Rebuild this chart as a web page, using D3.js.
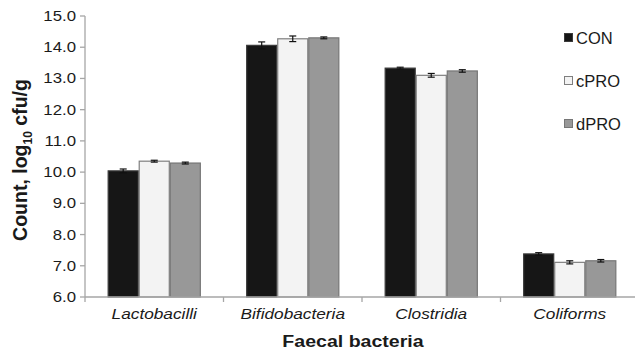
<!DOCTYPE html>
<html>
<head>
<meta charset="utf-8">
<script src="https://cdn.jsdelivr.net/npm/d3@7"></script>
<style>
  html, body { margin: 0; padding: 0; background: #fff; }
  svg { display: block; font-family: "Liberation Sans", Arial, sans-serif; }
</style>
</head>
<body>
<svg id="chart" width="635" height="356"></svg>
<script>
// data
const categories = ["Lactobacilli", "Bifidobacteria", "Clostridia", "Coliforms"];
const seriesNames = ["CON", "cPRO", "dPRO"];
const conValues = [10.04, 14.06, 13.33, 7.38];
const cproValues = [10.35, 14.27, 13.10, 7.11];
const dproValues = [10.29, 14.30, 13.24, 7.16];
const conErrors = [0.06, 0.11, 0.03, 0.04];
const cproErrors = [0.03, 0.09, 0.06, 0.05];
const dproErrors = [0.03, 0.03, 0.04, 0.04];
const yTicks = [6, 7, 8, 9, 10, 11, 12, 13, 14, 15];

const seriesStyle = {
  CON: { fill: "#161616", stroke: "#3a3a3a" },
  cPRO: { fill: "#f3f3f3", stroke: "#7f7f7f" },
  dPRO: { fill: "#989898", stroke: "#767676" }
};

const values = { CON: conValues, cPRO: cproValues, dPRO: dproValues };
const errors = { CON: conErrors, cPRO: cproErrors, dPRO: dproErrors };

const rows = [];
categories.forEach((c, i) => {
  seriesNames.forEach(s => {
    rows.push({ category: c, series: s, value: values[s][i], err: errors[s][i] });
  });
});

const svg = d3.select("#chart");
const plotLeft = 85, plotRight = 639, plotTop = 16, plotBottom = 297;
const axisColor = "#a6a6a6";

const y = d3.scaleLinear().domain([6, 15]).range([plotBottom, plotTop]);
const x0 = d3.scaleBand().domain(categories).range([plotLeft, plotRight]);
const x1 = d3.scaleBand().domain(seriesNames).range([0, x0.bandwidth()])
  .paddingInner(0).paddingOuter(0.73);

// horizontally stretched text, like the scanned figure
function stretchedText(g, xPos, yPos, sx, str) {
  return g.append("text")
    .attr("transform", `translate(${xPos},${yPos}) scale(${sx},1)`)
    .text(str);
}

// bars
svg.append("g")
  .selectAll("rect")
  .data(rows)
  .join("rect")
  .attr("x", d => x0(d.category) + x1(d.series) + 0.5)
  .attr("y", d => y(d.value))
  .attr("width", x1.bandwidth() - 1)
  .attr("height", d => plotBottom - y(d.value))
  .attr("fill", d => seriesStyle[d.series].fill)
  .attr("stroke", d => seriesStyle[d.series].stroke)
  .attr("stroke-width", 1.2);

// error bars
const eb = svg.append("g")
  .attr("stroke", "#111")
  .attr("stroke-width", 1.2)
  .selectAll("g")
  .data(rows)
  .join("g")
  .attr("transform", d => `translate(${x0(d.category) + x1(d.series) + x1.bandwidth() / 2},0)`);
eb.append("line")
  .attr("y1", d => y(d.value + d.err)).attr("y2", d => y(d.value - d.err));
eb.append("line")
  .attr("x1", -3.5).attr("x2", 3.5)
  .attr("y1", d => y(d.value + d.err)).attr("y2", d => y(d.value + d.err));
eb.append("line")
  .attr("x1", -3.5).attr("x2", 3.5)
  .attr("y1", d => y(d.value - d.err)).attr("y2", d => y(d.value - d.err));

// y axis
const yAxis = svg.append("g");
yAxis.append("line")
  .attr("x1", plotLeft).attr("x2", plotLeft).attr("y1", plotTop).attr("y2", plotBottom)
  .attr("stroke", axisColor).attr("stroke-width", 1.3);
yTicks.forEach(t => {
  yAxis.append("line")
    .attr("x1", plotLeft - 5).attr("x2", plotLeft).attr("y1", y(t)).attr("y2", y(t))
    .attr("stroke", axisColor).attr("stroke-width", 1.3);
  stretchedText(yAxis, plotLeft - 9, y(t) + 5, 1.2, d3.format(".1f")(t))
    .attr("text-anchor", "end")
    .attr("font-size", 14)
    .attr("fill", "#1a1a1a");
});

// x axis
const xAxis = svg.append("g");
xAxis.append("line")
  .attr("x1", plotLeft).attr("x2", plotRight).attr("y1", plotBottom).attr("y2", plotBottom)
  .attr("stroke", axisColor).attr("stroke-width", 1.3);
categories.forEach(c => {
  const bx = x0(c);
  xAxis.append("line")
    .attr("x1", bx).attr("x2", bx).attr("y1", plotBottom).attr("y2", plotBottom + 5)
    .attr("stroke", axisColor).attr("stroke-width", 1.3);
  stretchedText(xAxis, bx + x0.bandwidth() / 2, 319, 1.15, c)
    .attr("text-anchor", "middle")
    .attr("font-size", 15)
    .attr("font-style", "italic")
    .attr("fill", "#1a1a1a");
});

// axis titles
stretchedText(svg, 353, 347, 1.2, "Faecal bacteria")
  .attr("text-anchor", "middle")
  .attr("font-size", 16.3)
  .attr("font-weight", "bold")
  .attr("fill", "#1a1a1a");

const yt = svg.append("text")
  .attr("transform", "translate(27,160) rotate(-90)")
  .attr("text-anchor", "middle")
  .attr("font-size", 19.5)
  .attr("font-weight", "bold")
  .attr("fill", "#1a1a1a");
yt.append("tspan").text("Count, log");
yt.append("tspan").attr("font-size", 12).attr("dy", 5).text("10");
yt.append("tspan").attr("dy", -5).text(" cfu/g");

// legend
const legend = svg.append("g")
  .selectAll("g")
  .data(seriesNames)
  .join("g")
  .attr("transform", (d, i) => `translate(564,${37.5 + i * 43})`);
legend.append("rect")
  .attr("x", 0.5).attr("y", -4)
  .attr("width", 8).attr("height", 8)
  .attr("fill", d => seriesStyle[d].fill)
  .attr("stroke", d => seriesStyle[d].stroke);
legend.append("text")
  .attr("x", 12).attr("y", 6)
  .attr("font-size", 16.5)
  .attr("fill", "#1a1a1a")
  .text(d => d);
</script>
</body>
</html>
